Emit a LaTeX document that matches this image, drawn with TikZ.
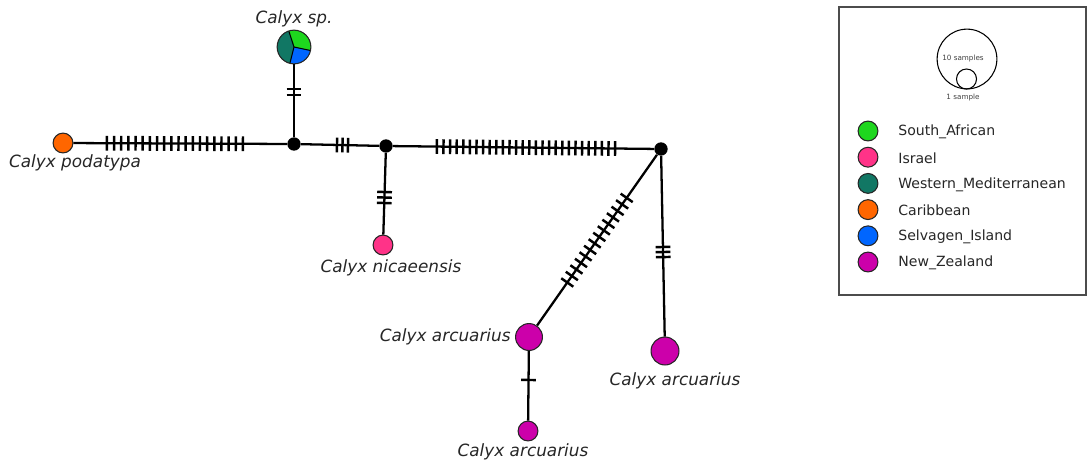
\documentclass[tikz,border=0pt]{standalone}
\usepackage{fontspec}
\setmainfont{DejaVu Sans}
\usepackage{tikz}
\usetikzlibrary{calc}

\definecolor{southafr}{RGB}{30,215,30}
\definecolor{israel}{RGB}{255,51,136}
\definecolor{westmed}{RGB}{17,119,100}
\definecolor{carib}{RGB}{255,102,0}
\definecolor{selvagen}{RGB}{0,102,255}
\definecolor{newzeal}{RGB}{204,0,170}

% n mutation ticks across the edge a--b, between fractions s and e
\newcommand{\mutmarks}[5]{%
  \foreach \k in {1,...,#5}{
    \pgfmathsetmacro{\mpos}{#3+(#4-#3)*(\k-1)/max(#5-1,1)}
    \draw[tick] ($(#1)!\mpos!(#2)!4.2pt!90:(#2)$) -- ($(#1)!\mpos!(#2)!4.2pt!-90:(#2)$);
  }}

\begin{document}
\begin{tikzpicture}[x=0.02cm,y=-0.02cm,
    link/.style={line width=1.3pt},
    tick/.style={line width=1.4pt},
    hap/.style={circle,draw=black!85,line width=0.6pt,inner sep=0pt},
    junc/.style={circle,fill=black,inner sep=0pt,minimum size=7.6pt},
    lab/.style={font=\fontsize{9.6}{11}\selectfont\itshape,text=black!85,inner sep=0pt}]
    \useasboundingbox (0,0) rectangle (1087,464);

    % haplotypes and median vectors
    \node[hap,fill=carib,minimum size=11.3pt] (podat) at (63,143) {};
    \node[junc] (m1) at (294,144) {};
    \node[circle,inner sep=0pt,minimum size=19.3pt] (sp) at (294,47) {};
    \node[junc] (m2) at (386,146) {};
    \node[hap,fill=israel,minimum size=11.3pt] (nic) at (383,245) {};
    \node[junc] (m3) at (661,149) {};
    \node[hap,fill=newzeal,minimum size=15.3pt] (arcA) at (529,337) {};
    \node[hap,fill=newzeal,minimum size=15.9pt] (arcB) at (665,351) {};
    \node[hap,fill=newzeal,minimum size=11.3pt] (arcC) at (528,431) {};

    % pie for the mixed haplotype
    \fill[southafr] (sp.center) -- ++(108:9.6pt) arc[start angle=108, end angle=-12, radius=9.6pt] -- cycle;
    \fill[selvagen] (sp.center) -- ++(-12:9.6pt) arc[start angle=-12, end angle=-104, radius=9.6pt] -- cycle;
    \fill[westmed] (sp.center) -- ++(108:9.6pt) arc[start angle=108, end angle=256, radius=9.6pt] -- cycle;
    \foreach \a in {108,-12,256}
        \draw[line width=0.6pt] (sp.center) -- ++(\a:9.6pt);
    \draw[line width=0.6pt,black!85] (sp.center) circle[radius=9.6pt];

    % edges
    \draw[link] (podat) -- (m1);
    \draw[link] (m1) -- (sp);
    \draw[link] (m1) -- (m2);
    \draw[link] (m2) -- (nic);
    \draw[link] (m2) -- (m3);
    \draw[link] (m3) -- (arcA);
    \draw[link] (m3) -- (arcB);
    \draw[link] (arcA) -- (arcC);

    % mutations
    \mutmarks{podat}{m1}{0.19}{0.779}{20}
    \mutmarks{m1}{sp}{0.505}{0.567}{2}
    \mutmarks{m1}{m2}{0.467}{0.587}{3}
    \mutmarks{m2}{nic}{0.465}{0.576}{3}
    \mutmarks{m2}{m3}{0.185}{0.833}{28}
    \mutmarks{m3}{arcA}{0.26}{0.71}{14}
    \mutmarks{m3}{arcB}{0.485}{0.535}{3}
    \mutmarks{arcA}{arcC}{0.457}{0.457}{1}

    % labels
    \node[lab] (lpodat) at (75,163) {Calyx podatypa};
    \node[lab] (lsp) at (294,19) {Calyx sp.};
    \node[lab] (lnic) at (391,268) {Calyx nicaeensis};
    \node[lab,anchor=east] (larcA) at (511,337) {Calyx arcuarius};
    \node[lab] (larcB) at (675,381) {Calyx arcuarius};
    \node[lab] (larcC) at (523,452) {Calyx arcuarius};

    % legend
    \draw[black!70,line width=0.9pt] (839,7) rectangle (1086,295);
    \draw[line width=0.6pt] (967,59) circle[radius=17pt];
    \draw[line width=0.6pt] (966.5,79) circle[radius=5.7pt];
    \node[font=\fontsize{4.1}{5}\selectfont,text=black!75,inner sep=0pt] (ten) at (963,59) {10 samples};
    \node[font=\fontsize{4.1}{5}\selectfont,text=black!75,inner sep=0pt] (one) at (963,98) {1 sample};
    \foreach \c/\t [count=\i] in {southafr/South\_African,israel/Israel,westmed/Western\_Mediterranean,
            carib/Caribbean,selvagen/Selvagen\_Island,newzeal/New\_Zealand}{
        \node[hap,fill=\c,minimum size=11.3pt] (dot\i) at (868,{131+26.2*(\i-1)}) {};
        \node[anchor=west,font=\fontsize{8}{10}\selectfont,text=black!85,inner sep=0pt] (txt\i)
            at (898,{132+26.2*(\i-1)}) {\t};
    }
\end{tikzpicture}
\end{document}
